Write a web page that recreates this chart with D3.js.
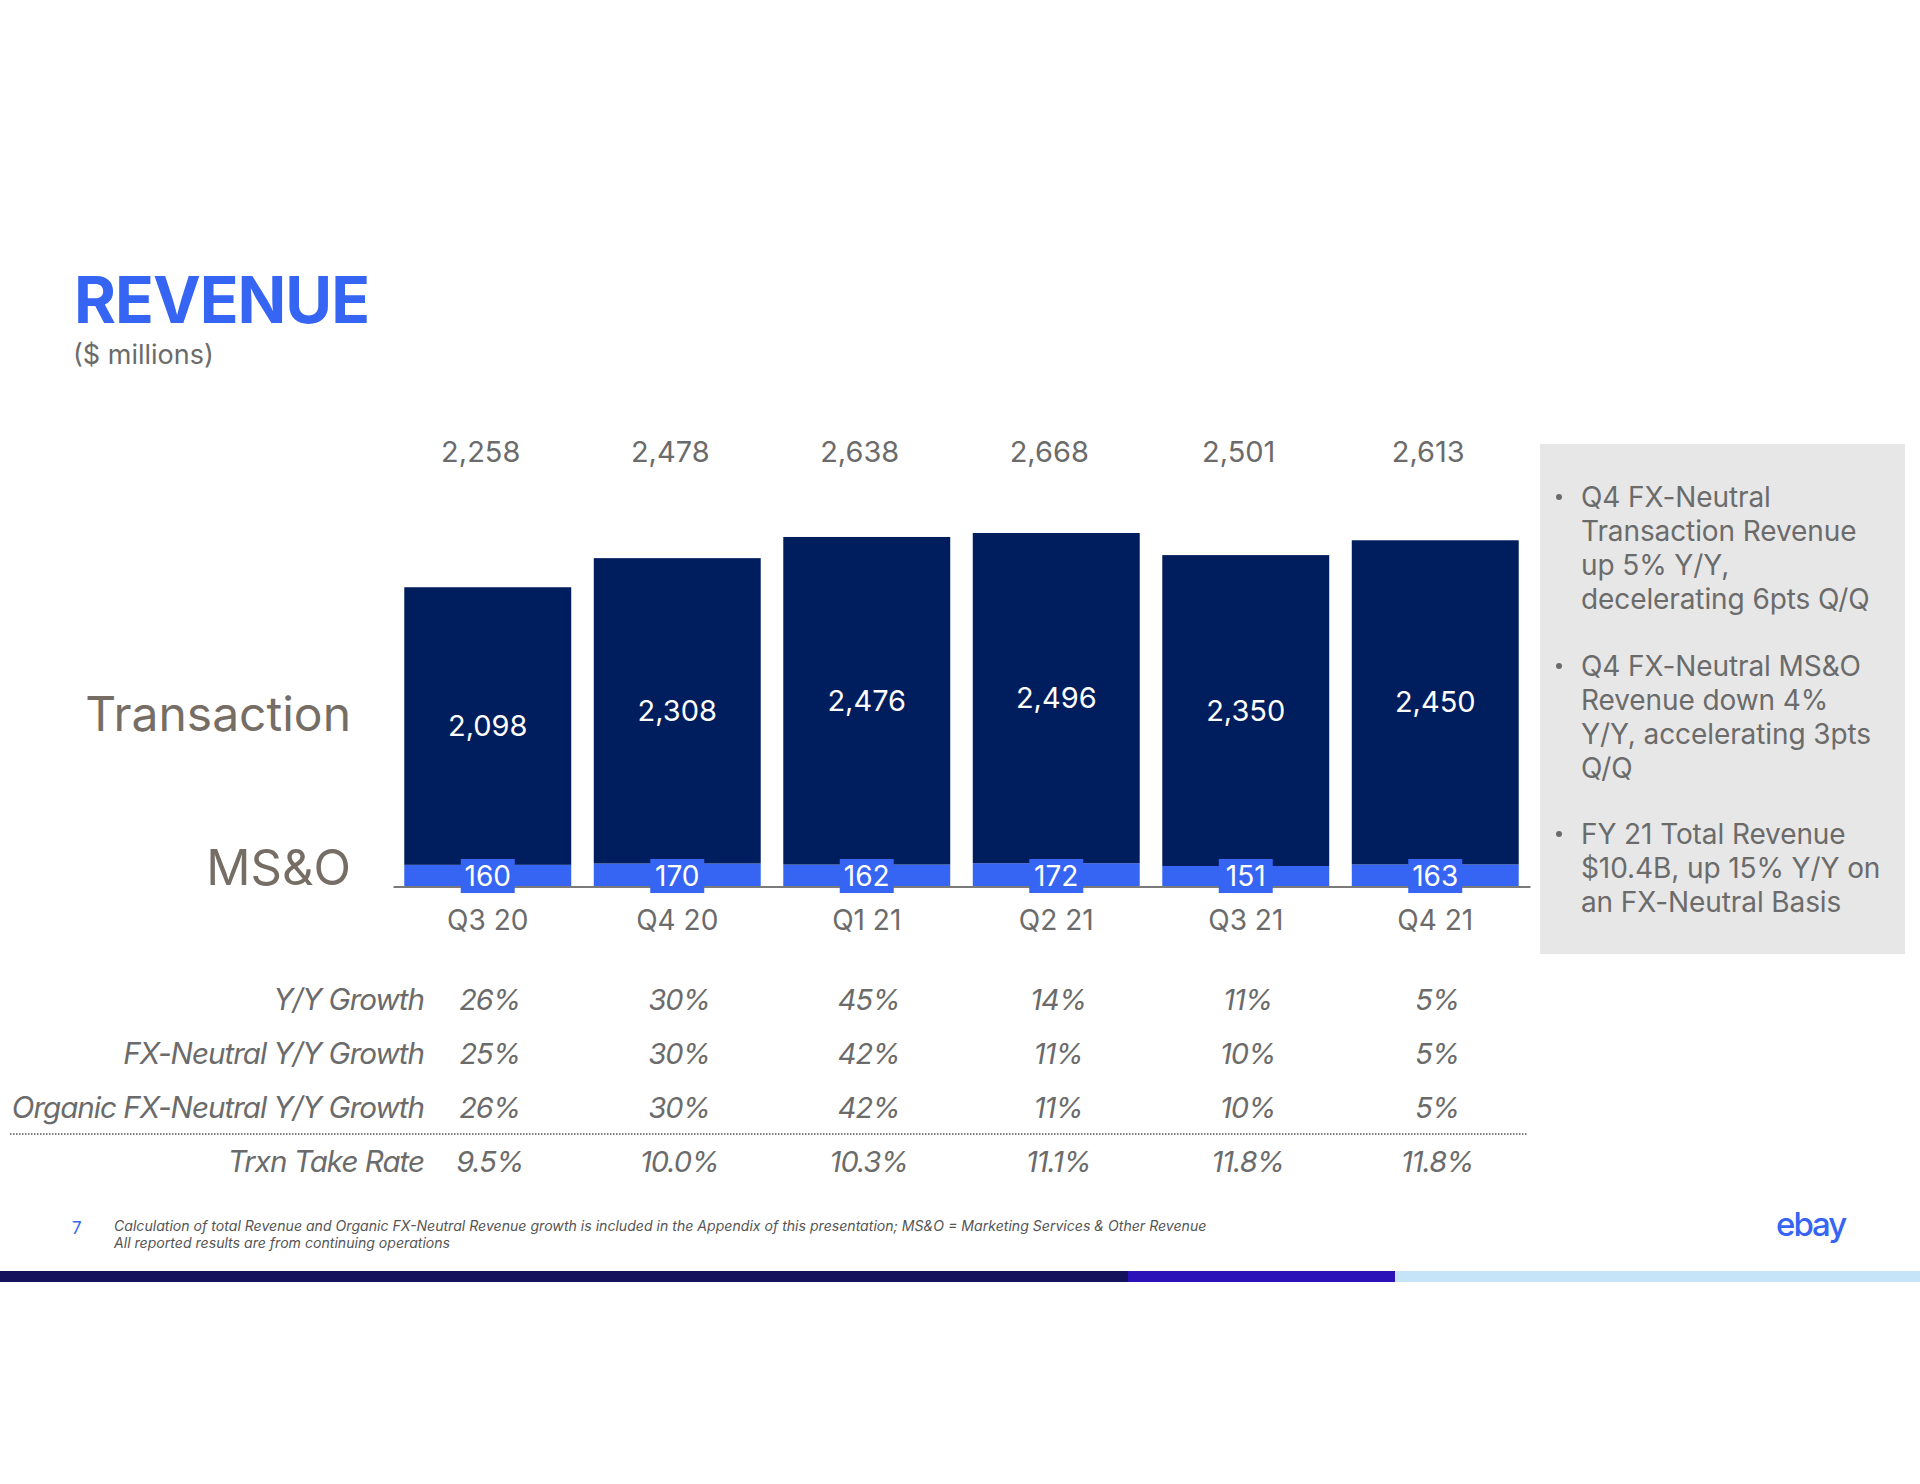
<!DOCTYPE html>
<html>
<head>
<meta charset="utf-8">
<script src="https://cdn.jsdelivr.net/npm/d3@7"></script>
<style>
  html, body { margin: 0; padding: 0; background: #ffffff; }
  svg { display: block; }
  text { font-family: Inter, "Open Sans", sans-serif; }
</style>
</head>
<body>
<svg id="chart" width="1920" height="1484"></svg>
<script>
// ---- Data ----
const categories = ["Q3 20", "Q4 20", "Q1 21", "Q2 21", "Q3 21", "Q4 21"];
const transaction = [2098, 2308, 2476, 2496, 2350, 2450];
const msno = [160, 170, 162, 172, 151, 163];
const totals = [2258, 2478, 2638, 2668, 2501, 2613];
const rowLabels = ["Y/Y Growth", "FX-Neutral Y/Y Growth", "Organic FX-Neutral Y/Y Growth", "Trxn Take Rate"];
const yyGrowth = ["26%", "30%", "45%", "14%", "11%", "5%"];
const fxGrowth = ["25%", "30%", "42%", "11%", "10%", "5%"];
const organicGrowth = ["26%", "30%", "42%", "11%", "10%", "5%"];
const takeRate = ["9.5%", "10.0%", "10.3%", "11.1%", "11.8%", "11.8%"];
const bullets = [
  ["Q4 FX-Neutral", "Transaction Revenue", "up 5% Y/Y,", "decelerating 6pts Q/Q"],
  ["Q4 FX-Neutral MS&O", "Revenue down 4%", "Y/Y, accelerating 3pts", "Q/Q"],
  ["FY 21 Total Revenue", "$10.4B, up 15% Y/Y on", "an FX-Neutral Basis"]
];
const footnotes = [
  "Calculation of total Revenue and Organic FX-Neutral Revenue growth is included in the Appendix of this presentation; MS&O = Marketing Services & Other Revenue",
  "All reported results are from continuing operations"
];

const svg = d3.select("#chart");
const NAVY = "#001d5e", BLUE = "#3665f3", GRAY = "#6b6b6b", BROWN = "#766d65";

// ---- Title ----
svg.append("text").attr("x", 74).attr("y", 323).attr("font-size", 64).attr("font-weight", 700)
  .attr("fill", BLUE).attr("letter-spacing", -1).text("REVENUE");
svg.append("text").attr("x", 73).attr("y", 364).attr("font-size", 27).attr("fill", GRAY).text("($ millions)");

// ---- Scales ----
const x = d3.scaleBand().domain(categories).range([393, 1530]).paddingInner(0.119).paddingOuter(0.0595);
const y = d3.scaleLinear().domain([0, 2668]).range([886, 533]);

const rows = categories.map((c, i) => ({ cat: c, msno: msno[i], transaction: transaction[i], total: totals[i] }));
const stack = d3.stack().keys(["msno", "transaction"])(rows);

const g = svg.append("g");
// Bars
g.selectAll("g.layer").data(stack).join("g").attr("class", "layer")
  .attr("fill", d => d.key === "msno" ? BLUE : NAVY)
  .selectAll("rect").data(d => d).join("rect")
  .attr("x", d => x(d.data.cat)).attr("width", x.bandwidth())
  .attr("y", d => y(d[1])).attr("height", d => y(d[0]) - y(d[1]));

// Axis baseline
const axis = d3.axisBottom(x).tickSize(0).tickPadding(0).tickFormat("");
const axG = svg.append("g").attr("transform", `translate(0,${y(0) + 0.5})`).call(axis);
axG.select(".domain").attr("stroke", "#7a7a7a").attr("stroke-width", 2);
axG.selectAll(".tick").remove();

// Category labels
svg.selectAll("text.cat").data(categories).join("text").attr("class", "cat")
  .attr("x", d => x(d) + x.bandwidth() / 2).attr("y", 930).attr("text-anchor", "middle")
  .attr("font-size", 28).attr("fill", GRAY).text(d => d);

// Total labels
svg.selectAll("text.tot").data(rows).join("text").attr("class", "tot")
  .attr("x", d => x(d.cat) + x.bandwidth() / 2 - 7).attr("y", 462).attr("text-anchor", "middle")
  .attr("font-size", 29).attr("fill", GRAY).text(d => d3.format(",")(d.total));

// Transaction labels
svg.selectAll("text.trx").data(stack[1]).join("text").attr("class", "trx")
  .attr("x", d => x(d.data.cat) + x.bandwidth() / 2).attr("y", d => (y(d[0]) + y(d[1])) / 2 + 10)
  .attr("text-anchor", "middle").attr("font-size", 29).attr("fill", "#ffffff")
  .text(d => d3.format(",")(d.data.transaction));

// MS&O label boxes
const ml = svg.selectAll("g.ml").data(rows).join("g").attr("class", "ml")
  .attr("transform", d => `translate(${x(d.cat) + x.bandwidth() / 2},876)`);
ml.append("rect").attr("x", -27).attr("y", -17).attr("width", 54).attr("height", 34).attr("fill", BLUE);
ml.append("text").attr("y", 10).attr("text-anchor", "middle").attr("font-size", 28).attr("fill", "#fff")
  .text(d => d.msno);

// Side labels
svg.append("text").attr("x", 351).attr("y", 731).attr("text-anchor", "end").attr("font-size", 48)
  .attr("fill", BROWN).text("Transaction");
svg.append("text").attr("x", 351).attr("y", 885).attr("text-anchor", "end").attr("font-size", 49)
  .attr("fill", BROWN).text("MS&O");

// ---- Table ----
const tableData = [yyGrowth, fxGrowth, organicGrowth, takeRate];
const rowY = [999, 1053, 1107, 1161];
tableData.forEach((vals, r) => {
  svg.append("text").attr("x", 424).attr("y", rowY[r] + 11).attr("text-anchor", "end")
    .attr("font-size", 29.6).attr("font-style", "italic").attr("fill", GRAY)
    .attr("letter-spacing", -1).text(rowLabels[r]);
  svg.selectAll(null).data(vals).join("text")
    .attr("x", (d, i) => x(categories[i]) + x.bandwidth() / 2 + 2).attr("y", rowY[r] + 11)
    .attr("text-anchor", "middle").attr("font-size", 29).attr("font-style", "italic")
    .attr("fill", GRAY).attr("letter-spacing", -1).text(d => d);
});
svg.append("line").attr("x1", 10).attr("x2", 1527).attr("y1", 1134).attr("y2", 1134)
  .attr("stroke", "#555").attr("stroke-width", 1.5).attr("stroke-dasharray", "1.5,1.5");

// ---- Side panel ----
svg.append("rect").attr("x", 1540).attr("y", 444).attr("width", 365).attr("height", 510).attr("fill", "#e7e7e7");
const bulletStart = [497, 666, 834];
bullets.forEach((lines, b) => {
  svg.append("circle").attr("cx", 1559).attr("cy", bulletStart[b]).attr("r", 3).attr("fill", GRAY);
  lines.forEach((l, k) => {
    svg.append("text").attr("x", 1581).attr("y", bulletStart[b] + k * 34 + 10)
      .attr("font-size", 28).attr("fill", GRAY).attr("letter-spacing", -0.1).text(l);
  });
});

// ---- Footer ----
svg.append("text").attr("x", 72).attr("y", 1234).attr("font-size", 17).attr("fill", BLUE).text("7");
footnotes.forEach((t, i) => {
  svg.append("text").attr("x", 114).attr("y", 1231 + i * 17).attr("font-size", 14.1)
    .attr("font-style", "italic").attr("fill", "#555").text(t);
});
svg.append("text").attr("x", 1776).attr("y", 1236).attr("font-size", 33).attr("font-weight", 500)
  .attr("fill", BLUE).attr("letter-spacing", -2).text("ebay");

// Bottom stripe
const stripe = [[0, 1128, "#14125a"], [1128, 1395, "#2a12b8"], [1395, 1920, "#c6e4f8"]];
svg.selectAll("rect.stripe").data(stripe).join("rect").attr("class", "stripe")
  .attr("x", d => d[0]).attr("width", d => d[1] - d[0]).attr("y", 1271).attr("height", 11).attr("fill", d => d[2]);
</script>
</body>
</html>
